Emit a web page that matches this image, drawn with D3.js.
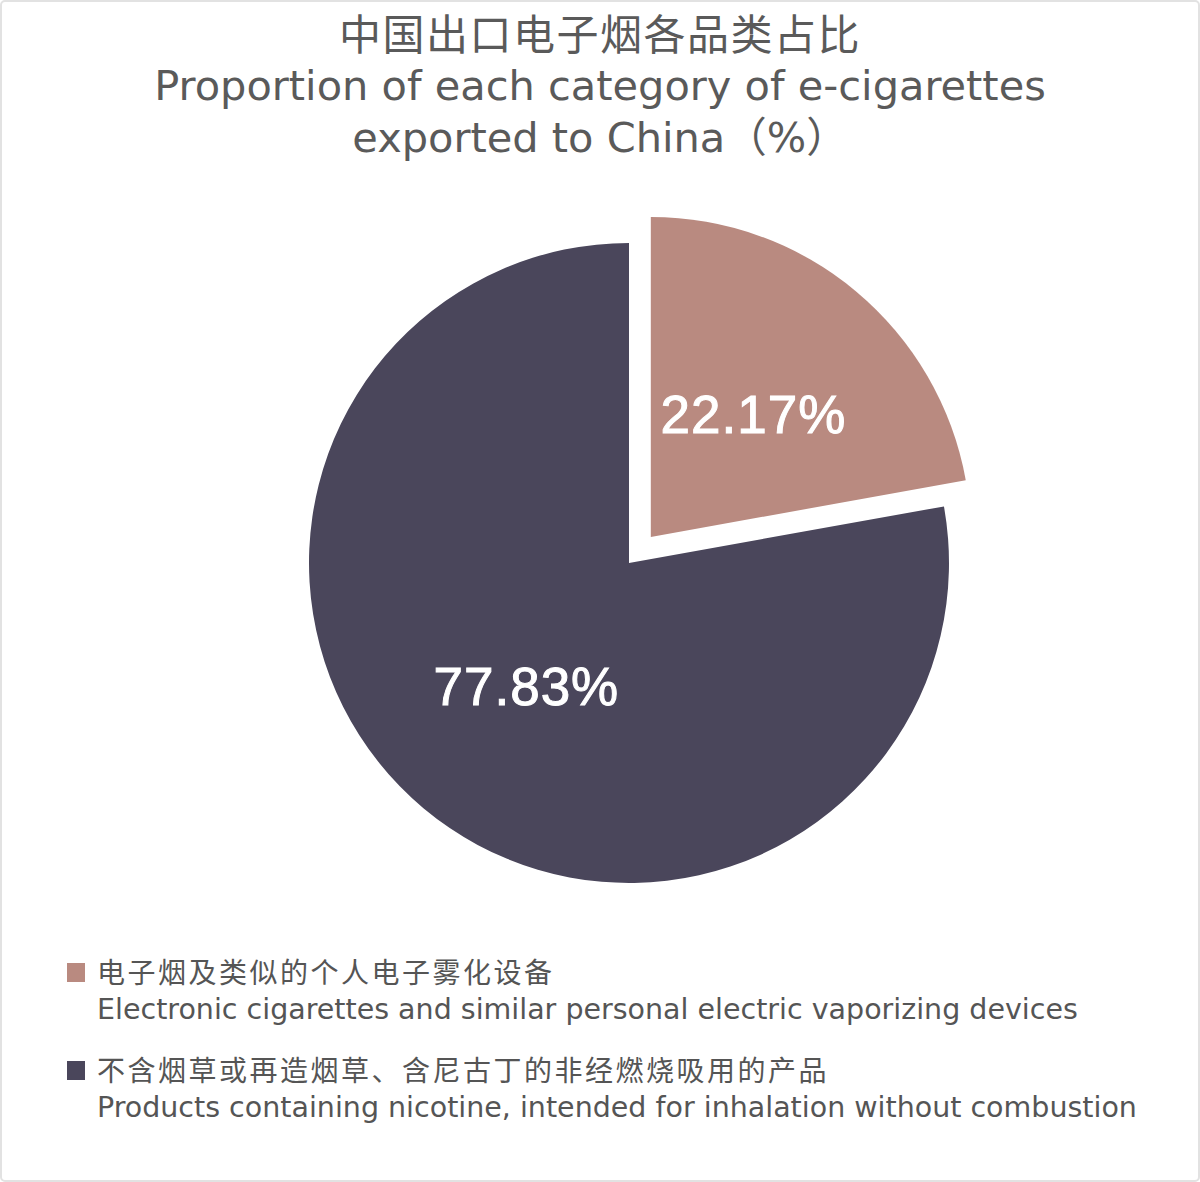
<!DOCTYPE html>
<html>
<head>
<meta charset="utf-8">
<script src="https://cdn.jsdelivr.net/npm/d3@7"></script>
<style>
  html, body { margin: 0; padding: 0; background: #fff; }
  svg { display: block; }
</style>
</head>
<body>
<svg width="1200" height="1182" viewBox="0 0 1200 1182"></svg>
<script>
// input data
const categories = ['电子烟及类似的个人电子雾化设备', '不含烟草或再造烟草、含尼古丁的非经燃烧吸用的产品'];
const categoriesEn = [
  'Electronic cigarettes and similar personal electric vaporizing devices',
  'Products containing nicotine, intended for inhalation without combustion',
];
const shares = [22.17, 77.83]; // percentage
const colors = ['#b98a80', '#4a465b'];
const titleLines = [
  '中国出口电子烟各品类占比',
  'Proportion of each category of e-cigarettes',
  'exported to China（%）',
];

const svg = d3.select('svg');
const width = 1200;
// wide latin face, CJK falls back to Noto
const font = '"DejaVu Sans", "Noto Sans CJK SC", sans-serif';
const fontCJK = '"Noto Sans CJK SC", sans-serif';
const fontLabel = '"Liberation Sans", sans-serif';

// light frame around the picture
svg.append('rect')
  .attr('x', 1).attr('y', 1)
  .attr('width', width - 2).attr('height', 1180)
  .attr('rx', 4)
  .attr('fill', '#fff')
  .attr('stroke', '#e2e2e2')
  .attr('stroke-width', 2);

// TITLE
svg.append('g')
  .selectAll('text')
  .data(titleLines)
  .join('text')
  .attr('x', width / 2)
  .attr('y', (d, i) => [50, 100, 152][i])
  .attr('text-anchor', 'middle')
  .attr('font-family', (d, i) => (i === 0 ? fontCJK : font))
  .attr('font-size', (d, i) => (i === 0 ? 42 : 41.5))
  .attr('letter-spacing', (d, i) => (i === 0 ? 1.5 : 0))
  .attr('fill', '#5a5a5a')
  .text(d => d);

// PIE
const radius = 320;
const cx = 629;
const cy = 563;
const explode = 34;

const pie = d3.pie().sort(null).value(d => d);
const arc = d3.arc().innerRadius(0).outerRadius(radius);

const groupPie = svg.append('g')
  .attr('transform', `translate(${cx} ${cy})`);

const slices = groupPie.selectAll('g')
  .data(pie(shares))
  .join('g')
  .attr('transform', (d, i) => {
    // only the first (smaller) slice is pulled out
    if (i !== 0) return null;
    const mid = (d.startAngle + d.endAngle) / 2;
    return `translate(${Math.sin(mid) * explode} ${-Math.cos(mid) * explode})`;
  });

slices.append('path')
  .attr('d', arc)
  .attr('fill', (d, i) => colors[i]);

slices.append('text')
  .attr('transform', d => `translate(${arc.centroid(d)})`)
  .attr('text-anchor', 'middle')
  .attr('dy', '0.36em')
  .attr('font-family', fontLabel)
  .attr('font-size', 53)
  .attr('letter-spacing', 1)
  .attr('fill', '#fff')
  .attr('stroke', '#fff')
  .attr('stroke-width', 1)
  .text(d => `${d.data.toFixed(2)}%`);

// LEGEND
const legend = svg.append('g')
  .selectAll('g')
  .data(categories)
  .join('g')
  .attr('transform', (d, i) => `translate(67 ${963 + i * 98})`);

legend.append('rect')
  .attr('width', 18)
  .attr('height', 19)
  .attr('fill', (d, i) => colors[i]);

legend.append('text')
  .attr('x', 30)
  .attr('y', 20)
  .attr('font-family', fontCJK)
  .attr('font-size', 28)
  .attr('letter-spacing', 2.5)
  .attr('fill', '#555')
  .text(d => d);

legend.append('text')
  .attr('x', 30)
  .attr('y', 56)
  .attr('font-family', font)
  .attr('font-size', 28.5)
  .attr('fill', '#555')
  .text((d, i) => categoriesEn[i]);
</script>
</body>
</html>
